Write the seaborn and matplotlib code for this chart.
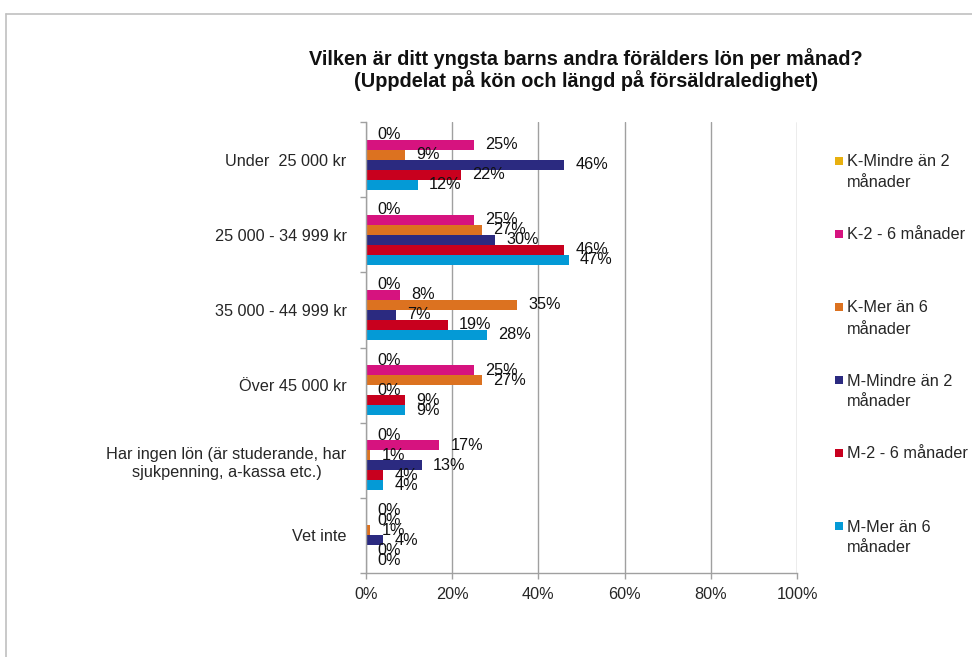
import numpy as np
import pandas as pd
import matplotlib
matplotlib.use('Agg')
import matplotlib.pyplot as plt
import seaborn as sns
from matplotlib.lines import Line2D
from matplotlib.patches import Rectangle

categories = ['Under  25 000 kr', '25 000 - 34 999 kr', '35 000 - 44 999 kr',
              'Över 45 000 kr',
              'Har ingen lön (är studerande, har\nsjukpenning, a-kassa etc.)',
              'Vet inte']
series = ['K-Mindre än 2 månader', 'K-2 - 6 månader', 'K-Mer än 6 månader',
          'M-Mindre än 2 månader', 'M-2 - 6 månader', 'M-Mer än 6 månader']
legend_labels = ['K-Mindre än 2\nmånader', 'K-2 - 6 månader', 'K-Mer än 6\nmånader',
                 'M-Mindre än 2\nmånader', 'M-2 - 6 månader', 'M-Mer än 6\nmånader']
title_lines = ['Vilken är ditt yngsta barns andra förälders lön per månad?',
               '(Uppdelat på kön och längd på försäldraledighet)']

# percent per category, one list per series
k_mindre = [0, 0, 0, 0, 0, 0]
k_2_6 = [25, 25, 8, 25, 17, 0]
k_mer = [9, 27, 35, 27, 1, 1]
m_mindre = [46, 30, 7, 0, 13, 4]
m_2_6 = [22, 46, 19, 9, 4, 0]
m_mer = [12, 47, 28, 9, 4, 0]
colors = ['#E8B00F', '#D6137F', '#DC7220', '#2B2A80', '#C8001E', '#049AD6']

x_ticks = [0, 20, 40, 60, 80, 100]

values = [k_mindre, k_2_6, k_mer, m_mindre, m_2_6, m_mer]
rows = []
for s, vals in zip(series, values):
    for c, v in zip(categories, vals):
        rows.append({'category': c, 'series': s, 'value': v})
df = pd.DataFrame(rows)

sns.set_theme(style='white')
plt.rcParams['font.family'] = ['Liberation Sans', 'DejaVu Sans']
fs = 11.7
grey = '#a0a0a0'

W, H = 972, 657
fig = plt.figure(figsize=(W / 100, H / 100), dpi=100)
ax = fig.add_axes([366 / W, 1 - 573 / H, (797 - 366) / W, (573 - 122) / H])

sns.barplot(data=df, x='value', y='category', hue='series', order=categories,
            hue_order=series, palette=colors, orient='h', width=0.8,
            saturation=1, errorbar=None, legend=False, linewidth=0, ax=ax)

for cont in ax.containers:
    ax.bar_label(cont, labels=['{:.0f}%'.format(v) for v in cont.datavalues],
                 padding=8, fontsize=fs, color='#111111')

ax.set_xlim(0, 100)
ax.set_ylim(len(categories) - 0.5, -0.5)
ax.set_xticks(x_ticks)
ax.set_xticklabels(['{}%'.format(t) for t in x_ticks], fontsize=fs)
ax.set_yticks(np.arange(-0.5, len(categories), 1), minor=True)
ax.tick_params(axis='y', which='major', length=0, pad=14, labelsize=fs)
ax.tick_params(axis='y', which='minor', length=4, width=1, color=grey, direction='out', left=True)
ax.tick_params(axis='x', length=4, width=1, color=grey, direction='out', bottom=True, pad=6)
for t in ax.get_yticklabels():
    t.set_multialignment('center')
    t.set_linespacing(1.3)
ax.set_xlabel('')
ax.set_ylabel('')
ax.xaxis.grid(True, color=grey, lw=1)
ax.set_axisbelow(True)
for side in ['top', 'right']:
    ax.spines[side].set_visible(False)
for side in ['left', 'bottom']:
    ax.spines[side].set_color(grey)
    ax.spines[side].set_linewidth(1)

for j, line in enumerate(title_lines):
    fig.text(586 / W, 1 - (65 + 22 * j) / H, line, ha='center', va='baseline',
             fontsize=14.3, fontweight='bold', color='#111111')

# legend drawn by hand so the marker sits on the first line
for i, (lab, col) in enumerate(zip(legend_labels, colors)):
    yc = 161 + 73 * i
    fig.add_artist(Rectangle((835 / W, 1 - (yc + 4) / H), 8 / W, 8 / H,
                             transform=fig.transFigure, color=col, lw=0))
    for j, part in enumerate(lab.split('\n')):
        fig.text(847 / W, 1 - (yc + 5.5 + 21 * j) / H, part, ha='left',
                 va='baseline', fontsize=fs)

# outer frame
fig.add_artist(Line2D([6 / W, 6 / W], [0, 1 - 14 / H], transform=fig.transFigure,
                      color='#c0c0c0', lw=1.2))
fig.add_artist(Line2D([6 / W, 1], [1 - 14 / H, 1 - 14 / H], transform=fig.transFigure,
                      color='#c0c0c0', lw=1.2))

plt.savefig('out.png', dpi=100)
